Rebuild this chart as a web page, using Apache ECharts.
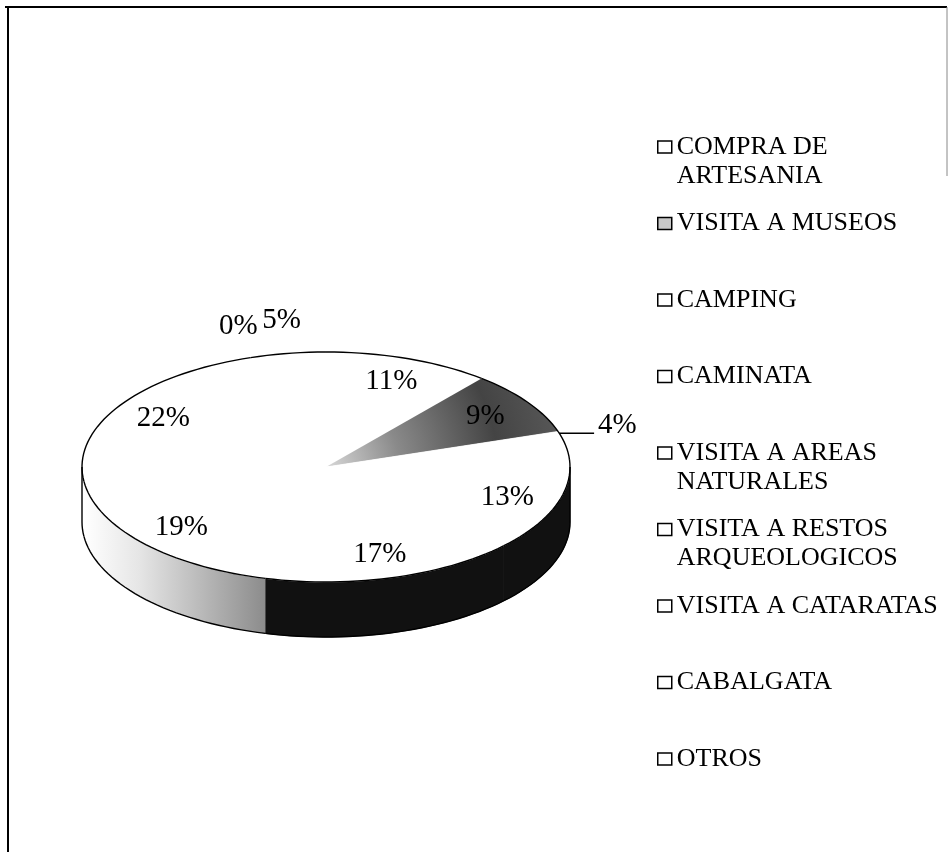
<!DOCTYPE html>
<html>
<head>
<meta charset="utf-8">
<script src="https://cdn.jsdelivr.net/npm/echarts@6/dist/echarts.min.js"></script>
<style>
  html, body { margin: 0; padding: 0; background: #fff; }
  #chart { width: 949px; height: 852px; }
</style>
</head>
<body>
<div id="chart"></div>
<script>
// datos
const categories = [
  "COMPRA DE ARTESANIA",
  "VISITA A MUSEOS",
  "CAMPING",
  "CAMINATA",
  "VISITA A AREAS NATURALES",
  "VISITA A RESTOS ARQUEOLOGICOS",
  "VISITA A CATARATAS",
  "CABALGATA",
  "OTROS",
];
const legendLabels = [
  "COMPRA DE\nARTESANIA",
  "VISITA A MUSEOS",
  "CAMPING",
  "CAMINATA",
  "VISITA A AREAS\nNATURALES",
  "VISITA A RESTOS\nARQUEOLOGICOS",
  "VISITA A CATARATAS",
  "CABALGATA",
  "OTROS",
];
const percents = [11, 9, 4, 13, 17, 19, 22, 0, 5];

const FONT = "'Liberation Serif', 'Times New Roman', serif";
const PIE = { cx: 326, cy: 467, rx: 244, ry: 115, depth: 55 };
const LEGEND = { left: 657, firstY: 147, step: 76.5, lineHeight: 29 };

// estilos (grises del escaneo)
const museosTop = { type: "radial", x: PIE.cx, y: PIE.cy, r: 245, global: true, colorStops: [
  { offset: 0, color: "#d8d8d8" }, { offset: 0.3, color: "#8a8a8a" },
  { offset: 0.7, color: "#444" }, { offset: 1, color: "#5a5a5a" } ] };
const topColors = ["#fff", museosTop, "#fff", "#fff", "#fff", "#fff", "#fff", "#fff", "#fff"];
const legendColors = ["#fff", "#c8c8c8", "#fff", "#fff", "#fff", "#fff", "#fff", "#fff", "#fff"];
const sideColors = [
  "#fff", "#555", "#fff", "#111", "#111",
  { type: "linear", x: 0, y: 0, x2: 1, y2: 0, colorStops: [
    { offset: 0, color: "#fff" }, { offset: 0.3, color: "#e6e6e6" }, { offset: 1, color: "#8c8c8c" } ] },
  "#fff", "#fff", "#fff",
];

const total = percents.reduce((a, b) => a + b, 0);
const startAngles = [];
percents.reduce((acc, v, i) => { startAngles[i] = acc; return acc + v; }, 0);

function pt(deg, dy) {
  const a = (deg * Math.PI) / 180;
  return [PIE.cx + PIE.rx * Math.sin(a), PIE.cy - PIE.ry * Math.cos(a) + (dy || 0)];
}
function arc(a0, a1, dy) {
  const n = Math.max(2, Math.ceil(Math.abs(a1 - a0) / 2));
  const out = [];
  for (let k = 0; k <= n; k++) out.push(pt(a0 + ((a1 - a0) * k) / n, dy));
  return out;
}

function makeRender(i) {
  return function (params, api) {
    const v = api.value(0);
    const a0 = (startAngles[i] / total) * 360;
    const a1 = a0 + (v / total) * 360;
    const children = [];

    // cara lateral (solo la mitad frontal es visible)
    const s = Math.max(a0, 90), e = Math.min(a1, 270);
    if (e > s) {
      const side = sideColors[i];
      const top = arc(s, e, 0);
      const bottom = arc(s, e, PIE.depth).reverse();
      children.push({
        type: "polygon",
        shape: { points: top.concat(bottom) },
        style: { fill: side, stroke: typeof side === "string" ? side : null, lineWidth: 0.8 },
        z2: 1,
      });
      children.push({
        type: "polyline",
        shape: { points: arc(s, e, PIE.depth) },
        style: { fill: null, stroke: "#000", lineWidth: 1.4 },
        z2: 5,
      });
    }
    [90, 270].forEach((edge) => {
      if (a0 <= edge && a1 > edge) {
        const p = pt(edge, 0);
        children.push({
          type: "line",
          shape: { x1: p[0], y1: p[1], x2: p[0], y2: p[1] + PIE.depth },
          style: { stroke: "#000", lineWidth: 1.4 },
          z2: 5,
        });
      }
    });

    // cara superior
    if (a1 > a0) {
      const fill = topColors[i];
      children.push({
        type: "polygon",
        shape: { points: [[PIE.cx, PIE.cy]].concat(arc(a0, a1, 0)) },
        style: { fill: fill, stroke: typeof fill === "string" ? fill : null, lineWidth: 0.8 },
        z2: 2,
      });
      children.push({
        type: "polyline",
        shape: { points: arc(a0, a1, 0) },
        style: { fill: null, stroke: "#000", lineWidth: 1.4 },
        z2: 5,
      });
    }

    // etiqueta
    const mid = (a0 + a1) / 2;
    const rad = (mid * Math.PI) / 180;
    const sn = Math.sin(rad), cs = Math.cos(rad);
    const textStyle = {
      text: Math.round(v) + "%", fill: "#000", fontFamily: FONT, fontSize: 29,
      verticalAlign: "middle",
    };
    if (v >= 6) {
      children.push({
        type: "text",
        x: PIE.cx + PIE.rx * 0.79 * sn,
        y: PIE.cy - PIE.ry * 0.79 * cs,
        style: Object.assign({ align: "center" }, textStyle),
        z2: 10,
      });
    } else {
      const edge = pt(mid, 0);
      let x = edge[0] + 33 * sn;
      let y = edge[1] - 33 * cs;
      let align = "center";
      if (sn > 0.5) align = "left";
      else if (sn < -0.5) align = "right";
      else x = edge[0] + 40 * sn;
      if (Math.abs(sn) > 0.8) {
        // etiqueta lateral con línea guía
        y -= 14;
        const ly = y + 8;
        const c = (PIE.cy - ly) / PIE.ry;
        const ex = PIE.cx + Math.sign(sn) * PIE.rx * Math.sqrt(Math.max(0, 1 - c * c));
        children.push({
          type: "line",
          shape: { x1: ex, y1: ly, x2: x - 4 * Math.sign(sn), y2: ly },
          style: { stroke: "#000", lineWidth: 1.4 },
          z2: 10,
        });
      }
      children.push({
        type: "text",
        x: x,
        y: y,
        style: Object.assign({ align: align }, textStyle),
        z2: 10,
      });
    }
    return { type: "group", children: children };
  };
}

const series = categories.map((name, i) => ({
  type: "custom",
  name: name,
  coordinateSystem: "none",
  silent: true,
  itemStyle: { color: legendColors[i] },
  data: [[percents[i]]],
  renderItem: makeRender(i),
}));

const legends = categories.map((name, i) => {
  const lines = legendLabels[i].split("\n").length;
  const y = LEGEND.firstY + LEGEND.step * i;
  const boxH = lines === 2 ? 3 * LEGEND.lineHeight : LEGEND.lineHeight;
  return {
    data: [name],
    left: LEGEND.left,
    top: y - boxH / 2,
    orient: "vertical",
    padding: 0,
    itemGap: 0,
    itemWidth: 14,
    itemHeight: 12,
    icon: "rect",
    selectedMode: false,
    itemStyle: { borderColor: "#000", borderWidth: 1.5 },
    // línea vacía arriba para que el cuadro quede a la altura de la primera línea
    formatter: () => (lines === 2 ? "\n" + legendLabels[i] : legendLabels[i]),
    textStyle: {
      fontFamily: FONT, fontSize: 26, lineHeight: LEGEND.lineHeight, color: "#000",
    },
  };
});

const chart = echarts.init(document.getElementById("chart"), null, { renderer: "canvas" });
chart.setOption({
  backgroundColor: "#fff",
  animation: false,
  legend: legends,
  graphic: [
    // marco del gráfico
    { type: "line", shape: { x1: 5, y1: 7, x2: 947, y2: 7 }, style: { stroke: "#000", lineWidth: 2 } },
    { type: "line", shape: { x1: 8, y1: 7, x2: 8, y2: 852 }, style: { stroke: "#000", lineWidth: 2 } },
    { type: "line", shape: { x1: 947, y1: 7, x2: 947, y2: 176 }, style: { stroke: "#888", lineWidth: 1 } },
  ],
  series: series,
});
</script>
</body>
</html>
